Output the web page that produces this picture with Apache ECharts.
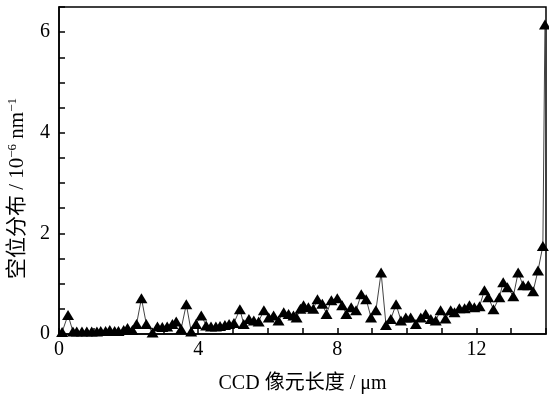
<!DOCTYPE html>
<html><head><meta charset="utf-8">
<script src="https://cdn.jsdelivr.net/npm/echarts@6/dist/echarts.min.js"></script>
<style>html,body{margin:0;padding:0;background:#fff}#c{width:549px;height:399px}</style>
</head><body><div id="c"></div>
<script>
var xPos = [0.09,0.26,0.40,0.51,0.66,0.80,0.94,1.09,1.20,1.34,1.46,1.60,1.71,1.86,1.97,2.11,2.23,2.37,2.51,2.69,
2.83,2.97,3.11,3.26,3.37,3.51,3.66,3.80,3.94,4.09,4.23,4.37,4.51,4.63,4.77,4.89,5.03,5.20,5.31,5.46,
5.60,5.74,5.89,6.03,6.17,6.31,6.46,6.60,6.74,6.83,6.94,7.03,7.17,7.31,7.43,7.57,7.69,7.83,8.00,8.14,
8.26,8.40,8.54,8.69,8.83,8.97,9.11,9.26,9.40,9.54,9.69,9.83,9.97,10.11,10.26,10.40,10.54,10.69,10.83,10.97,
11.11,11.26,11.37,11.51,11.66,11.80,11.94,12.09,12.23,12.34,12.49,12.66,12.77,12.89,13.06,13.20,13.34,13.49,13.63,13.77,
13.91,13.97];
var vacancy = [0.04,0.38,0.05,0.05,0.05,0.05,0.05,0.05,0.06,0.06,0.08,0.06,0.06,0.08,0.12,0.08,0.20,0.71,0.20,0.03,
0.15,0.14,0.15,0.20,0.25,0.10,0.59,0.05,0.20,0.37,0.17,0.15,0.15,0.16,0.18,0.20,0.22,0.49,0.20,0.30,
0.27,0.25,0.47,0.33,0.37,0.27,0.43,0.40,0.37,0.33,0.50,0.57,0.53,0.50,0.69,0.60,0.40,0.67,0.71,0.57,
0.40,0.53,0.47,0.79,0.69,0.33,0.47,1.22,0.18,0.30,0.59,0.27,0.33,0.33,0.20,0.33,0.40,0.30,0.27,0.47,
0.31,0.47,0.43,0.51,0.51,0.57,0.53,0.55,0.87,0.73,0.49,0.73,1.03,0.93,0.75,1.22,0.97,0.97,0.85,1.26,
1.75,6.15];
var xTickLabels = ['0','4','8','12'];
var yTickLabels = ['0','2','4','6'];

var FONT = '"Liberation Serif","DejaVu Serif","Noto Sans CJK SC",serif';
var chart = echarts.init(document.getElementById('c'), null, {renderer:'canvas'});
var data = xPos.map(function(x,i){return [x, vacancy[i]];});
chart.setOption({
  animation:false,
  backgroundColor:'#fff',
  grid:{left:59,right:1,top:7,bottom:62,show:true,borderColor:'#000',borderWidth:1.5,backgroundColor:'transparent'},
  xAxis:{type:'value',min:0,max:14,interval:1,
    axisLine:{lineStyle:{color:'#000',width:1.5}},
    axisTick:{inside:true,length:6,lineStyle:{color:'#000',width:1.5}},
    splitLine:{show:false},
    axisLabel:{color:'#000',fontFamily:FONT,fontSize:20,margin:6,
      formatter:function(v){var s=String(Math.round(v));return xTickLabels.indexOf(s)>=0?s:'';}},
    name:'CCD 像元长度 / μm',nameLocation:'middle',nameGap:40,
    nameTextStyle:{color:'#000',fontFamily:FONT,fontSize:20}
  },
  yAxis:{type:'value',min:0,max:6.5,interval:0.5,
    axisLine:{lineStyle:{color:'#000',width:1.5}},
    axisTick:{inside:true,length:6,lineStyle:{color:'#000',width:1.5}},
    splitLine:{show:false},
    axisLabel:{color:'#000',fontFamily:FONT,fontSize:20,margin:9,
      formatter:function(v){var s=String(v);return yTickLabels.indexOf(s)>=0?s:'';}}
  },
  graphic:[{type:'text',left:6,top:98,rotation:Math.PI/2,originX:0,originY:0,
    style:{text:'{a|空位分布 / 10}{s|−6}{a| nm}{s|−1}',
      rich:{a:{fontFamily:FONT,fontSize:21,fill:'#000'},s:{fontFamily:FONT,fontSize:13,fill:'#000',padding:[0,0,10,0]}}}}],
  series:[{type:'line',data:data,symbol:'triangle',symbolSize:[12,10],showSymbol:true,
    lineStyle:{color:'#444',width:1},itemStyle:{color:'#000'},clip:false}]
});
</script></body></html>
